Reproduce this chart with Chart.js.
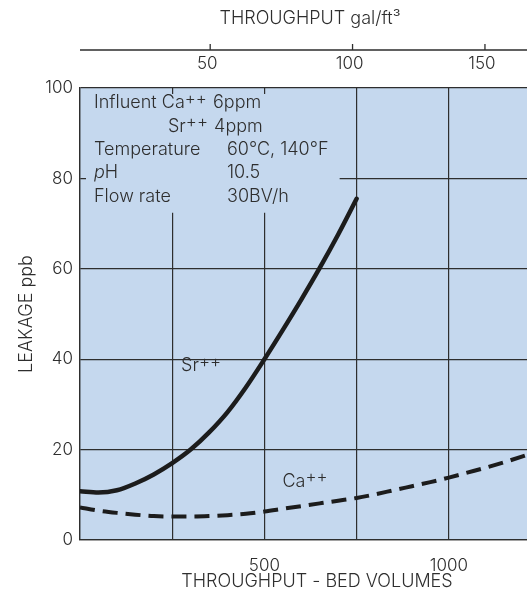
<!DOCTYPE html>
<html>
<head>
<meta charset="utf-8">
<script src="https://cdn.jsdelivr.net/npm/chart.js@4.4.1/dist/chart.umd.min.js"></script>
<style>
  html, body { margin: 0; padding: 0; background: #fff; }
  #leakage { display: block; }
</style>
</head>
<body>
<canvas id="leakage" width="527" height="595"></canvas>
<script>
// leakage curves, throughput in bed volumes vs leakage in ppb
const srBedVolumes = [0, 50, 100, 150, 200, 250, 300, 350, 400, 450, 500, 550, 600, 650, 700, 750];
const srLeakage = [10.8, 10.5, 11, 12.5, 14.5, 17, 20, 23.8, 28.3, 33.8, 40, 46.5, 53.2, 60.2, 67.6, 75.5];

const caBedVolumes = [0, 50, 100, 150, 200, 250, 300, 350, 400, 450, 500, 550, 600, 650, 700, 750, 800, 850, 900, 950, 1000, 1050, 1100, 1150, 1200, 1250];
const caLeakage = [7.2, 6.5, 6, 5.6, 5.3, 5.2, 5.2, 5.3, 5.5, 5.8, 6.3, 6.9, 7.5, 8.1, 8.7, 9.3, 10.1, 11, 11.9, 12.8, 13.8, 14.9, 16, 17.2, 18.5, 19.9];

// axis ticks
const xGridTicks = [0, 250, 500, 750, 1000];
const xTickLabels = ['', '', '500', '', '1000'];
const yTicks = [0, 20, 40, 60, 80, 100];
// top scale: gal/ft3 labels placed at their bed-volume positions
const topTickLabels = ['50', '100', '150'];
const topTickBV = [353, 739, 1098];

const conditionLines = [
  ['Influent Ca++ 6ppm', ''],
  ['', 'Sr++ 4ppm'],
  ['Temperature', '60°C, 140°F'],
  ['pH', '10.5'],
  ['Flow rate', '30BV/h']
];

const plotBg = '#c5d8ee';
const ink = '#2e2e2e';
const FAMILY = 'Inter, "Open Sans", "Liberation Sans", sans-serif';
const font = (size, style) => (style || '') + ' 300 ' + size + 'px ' + FAMILY;

function toPoints(xs, ys) {
  return xs.map((x, i) => ({x: x, y: ys[i]}));
}

// left-aligned text where "++" is set raised
function richText(ctx, text, x, y, size) {
  const parts = text.split('++');
  let cx = x;
  parts.forEach((p, i) => {
    ctx.font = font(size);
    ctx.fillText(p, cx, y);
    cx += ctx.measureText(p).width;
    if (i < parts.length - 1) {
      ctx.font = font(size - 1);
      ctx.fillText('++', cx, y - 4);
      cx += ctx.measureText('++').width + 1;
    }
  });
  ctx.font = font(size);
}

// plot background + blank area behind the conditions text
const backdrop = {
  id: 'backdrop',
  beforeDraw(chart) {
    const {ctx, chartArea: a} = chart;
    ctx.save();
    ctx.fillStyle = plotBg;
    ctx.fillRect(a.left, a.top, a.right - a.left, a.bottom - a.top);
    ctx.restore();
  },
  beforeDatasetsDraw(chart) {
    const {ctx, chartArea: a, scales} = chart;
    const x1 = scales.x.getPixelForValue(704);
    const y1 = scales.y.getPixelForValue(72.4);
    ctx.save();
    ctx.fillStyle = plotBg;
    ctx.fillRect(a.left + 6, a.top + 6, x1 - a.left - 6, y1 - a.top - 6);
    ctx.restore();
  }
};

// texts, top axis and titles
const labels = {
  id: 'labels',
  afterDraw(chart) {
    const {ctx, chartArea: a, scales} = chart;
    const xs = scales.x, ys = scales.y;
    ctx.save();
    ctx.fillStyle = ink;
    ctx.strokeStyle = ink;
    ctx.font = font(17);
    ctx.textBaseline = 'middle';

    // top axis
    const topY = 50;
    ctx.lineWidth = 1.3;
    ctx.beginPath();
    ctx.moveTo(a.left, topY);
    ctx.lineTo(a.right, topY);
    topTickBV.forEach(v => {
      const px = xs.getPixelForValue(v);
      ctx.moveTo(px, topY);
      ctx.lineTo(px, topY - 6);
    });
    ctx.stroke();
    ctx.textAlign = 'center';
    topTickBV.forEach((v, i) => {
      ctx.fillText(topTickLabels[i], xs.getPixelForValue(v) - 3, topY + 14);
    });
    ctx.font = font(18);
    ctx.fillText('THROUGHPUT gal/ft³', 310, 19);

    // bottom title
    ctx.fillText('THROUGHPUT - BED VOLUMES', 317, 582);

    // y title
    ctx.save();
    ctx.translate(27, (a.top + a.bottom) / 2);
    ctx.rotate(-Math.PI / 2);
    ctx.fillText('LEAKAGE ppb', 0, 0);
    ctx.restore();

    // conditions
    ctx.textAlign = 'left';
    conditionLines.forEach((row, i) => {
      const y = a.top + 15 + i * 23.3;
      if (row[0] === 'pH') {
        ctx.font = font(18, 'italic');
        ctx.fillText('p', 94, y);
        const w = ctx.measureText('p').width;
        ctx.font = font(18);
        ctx.fillText('H', 94 + w, y);
      } else if (row[0]) {
        richText(ctx, row[0], 94, y, 18);
      }
      if (row[1]) richText(ctx, row[1], row[0] ? 227 : 168, y, 18);
    });

    // curve labels
    richText(ctx, 'Sr++', xs.getPixelForValue(274), ys.getPixelForValue(38.5), 18);
    richText(ctx, 'Ca++', xs.getPixelForValue(549), ys.getPixelForValue(13), 18);
    ctx.restore();
  }
};

new Chart(document.getElementById('leakage'), {
  type: 'line',
  data: {
    datasets: [
      {
        label: 'Sr++',
        data: toPoints(srBedVolumes, srLeakage),
        borderColor: '#1c1c1c',
        borderWidth: 4.5,
        pointRadius: 0,
        cubicInterpolationMode: 'monotone',
        borderCapStyle: 'round'
      },
      {
        label: 'Ca++',
        data: toPoints(caBedVolumes, caLeakage),
        borderColor: '#1c1c1c',
        borderWidth: 4,
        borderDash: [15, 8],
        pointRadius: 0,
        cubicInterpolationMode: 'monotone'
      }
    ]
  },
  options: {
    responsive: false,
    animation: false,
    layout: {padding: {top: 88, left: 0, right: 0, bottom: 0}},
    plugins: {
      legend: {display: false},
      tooltip: {enabled: false}
    },
    scales: {
      x: {
        type: 'linear',
        min: 0,
        max: 1212,
        afterBuildTicks: s => { s.ticks = xGridTicks.map(v => ({value: v})); },
        afterFit: s => { s.height = 55; },
        ticks: {
          color: ink,
          font: {family: FAMILY, size: 17, weight: 300},
          padding: 16,
          maxRotation: 0,
          callback: (v, i) => xTickLabels[i]
        },
        grid: {color: ink, lineWidth: 1.2, drawTicks: false},
        border: {color: ink, width: 1.3}
      },
      y: {
        min: 0,
        max: 100,
        afterBuildTicks: s => { s.ticks = yTicks.map(v => ({value: v})); },
        afterFit: s => { s.width = 80; },
        ticks: {
          color: ink,
          font: {family: FAMILY, size: 17, weight: 300},
          padding: 7
        },
        grid: {color: ink, lineWidth: 1.2, drawTicks: false},
        border: {color: ink, width: 1.3}
      }
    }
  },
  plugins: [backdrop, labels]
});
</script>
</body>
</html>
